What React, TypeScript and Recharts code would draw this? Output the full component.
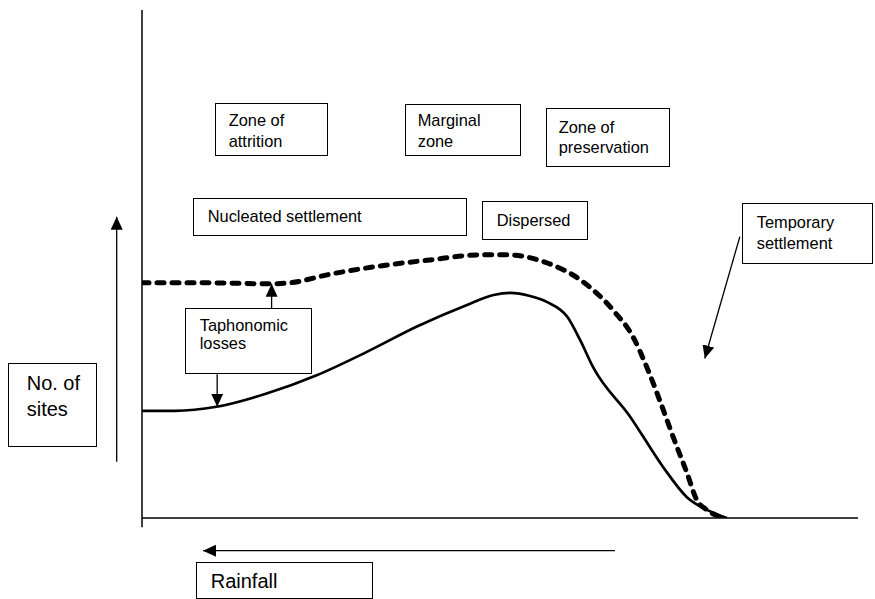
import React from "react";
import { LineChart, Line, XAxis, YAxis, ReferenceLine } from "recharts";

// relative rainfall position (0 = left edge of plot, 100 = right end of axis)
const survivingX = [0, 4.6, 10.4, 17.4, 24.4, 31.4, 38.4, 45.3, 49.1, 51.4, 54.2, 56.6, 59.4, 61.2, 63.0, 68.2, 72.8, 76.1, 78.9, 81.7];
// number of sites surviving (solid line)
const survivingSites = [21.1, 21.1, 21.9, 24.5, 28.1, 32.7, 37.7, 41.9, 43.9, 44.3, 43.7, 42.5, 39.6, 35.0, 29.7, 19.9, 10.0, 4.1, 1.6, 0];

const originalX = [0, 8.1, 18.1, 20.7, 26.3, 33.2, 40.2, 47.2, 51.0, 56.6, 61.2, 65.8, 68.6, 70.5, 72.3, 74.2, 76.1, 77.5, 78.9, 80.7];
// number of sites originally (dashed line)
const originalSites = [46.3, 46.3, 46.1, 46.3, 48.0, 49.6, 50.8, 51.8, 51.8, 50.2, 46.9, 40.9, 35.6, 29.7, 23.2, 15.9, 8.9, 3.5, 1.6, 0.2];

const surviving = survivingX.map((x, i) => ({ x, sites: survivingSites[i] }));
const original = originalX.map((x, i) => ({ x, sites: originalSites[i] }));

const FONT = '"Liberation Sans", Arial, Helvetica, sans-serif';

type BoxProps = {
  x: number; y: number; w: number; h: number;
  lines: string[]; tx: number; ty: number; lh: number; fs?: number;
};

function Box({ x, y, w, h, lines, tx, ty, lh, fs = 16.4 }: BoxProps) {
  const base = (lh - 1.117 * fs) / 2 + 0.905 * fs;
  return (
    <div
      style={{
        position: "absolute", left: x, top: y, width: w, height: h,
        border: "1.3px solid #000", boxSizing: "border-box", background: "#fff",
      }}
    >
      <div
        style={{
          position: "absolute", left: tx - x - 1.3, top: ty - y - 1.3 - base,
          fontFamily: FONT, fontSize: fs, lineHeight: `${lh}px`, color: "#000",
          whiteSpace: "nowrap",
        }}
      >
        {lines.map((l, i) => <div key={i}>{l}</div>)}
      </div>
    </div>
  );
}

export default function App() {
  return (
    <div style={{ position: "absolute", left: 0, top: 0, width: 875, height: 599, background: "#fff" }}>
      <svg width={0} height={0} style={{ position: "absolute" }}>
        <defs>
          <marker id="arrowHead" markerUnits="userSpaceOnUse" markerWidth={13} markerHeight={12}
            refX={13} refY={6} orient="auto">
            <path d="M0,0 L13,6 L0,12 z" fill="#000" />
          </marker>
        </defs>
      </svg>

      <LineChart width={875} height={599} data={surviving}
        margin={{ top: 10, right: 17, bottom: 81, left: 142 }}>
        <XAxis type="number" dataKey="x" domain={[0, 100]} hide allowDataOverflow />
        <YAxis type="number" domain={[0, 100]} hide allowDataOverflow />
        <ReferenceLine segment={[{ x: 0, y: -1.8 }, { x: 0, y: 100 }]} stroke="#000" strokeWidth={1.5} ifOverflow="visible" />
        <ReferenceLine segment={[{ x: 0, y: 0 }, { x: 100, y: 0 }]} stroke="#000" strokeWidth={1.5} ifOverflow="visible" />
        <Line data={original} dataKey="sites" type="monotone" stroke="#000" strokeWidth={5}
          strokeDasharray="7 8" strokeLinecap="round" dot={false} isAnimationActive={false} />
        <Line data={surviving} dataKey="sites" type="monotone" stroke="#000" strokeWidth={2.7}
          dot={false} isAnimationActive={false} />
        <ReferenceLine segment={[{ x: 18.1, y: 41.3 }, { x: 18.1, y: 46.1 }]} stroke="#000" strokeWidth={1.3}
          ifOverflow="visible" markerEnd="url(#arrowHead)" />
        <ReferenceLine segment={[{ x: 10.5, y: 28.3 }, { x: 10.5, y: 21.9 }]} stroke="#000" strokeWidth={1.3}
          ifOverflow="visible" markerEnd="url(#arrowHead)" />
        <ReferenceLine segment={[{ x: 83.5, y: 55.4 }, { x: 78.6, y: 31.4 }]} stroke="#000" strokeWidth={1.3}
          ifOverflow="visible" markerEnd="url(#arrowHead)" />
      </LineChart>

      <svg width={875} height={599} style={{ position: "absolute", left: 0, top: 0, pointerEvents: "none" }}>
        <line x1={116.7} y1={461.7} x2={116.7} y2={216.7} stroke="#000" strokeWidth={1.3} markerEnd="url(#arrowHead)" />
        <line x1={615} y1={550.7} x2={203} y2={550.7} stroke="#000" strokeWidth={1.3} markerEnd="url(#arrowHead)" />
      </svg>

      <Box x={215} y={103} w={113} h={53} lines={["Zone of", "attrition"]} tx={229} ty={126.7} lh={21} />
      <Box x={405} y={104} w={116} h={52} lines={["Marginal", "zone"]} tx={418} ty={126.7} lh={20.5} />
      <Box x={546} y={108} w={124} h={59} lines={["Zone of", "preservation"]} tx={559} ty={133.3} lh={20} />
      <Box x={193} y={198} w={274} h={38} lines={["Nucleated settlement"]} tx={208} ty={221.7} lh={20} />
      <Box x={482} y={201} w={106} h={39} lines={["Dispersed"]} tx={497} ty={225.7} lh={20} />
      <Box x={742} y={203} w={131} h={61} lines={["Temporary", "settlement"]} tx={757} ty={228.3} lh={21} />
      <Box x={185} y={308} w={127} h={66} lines={["Taphonomic", "losses"]} tx={200} ty={331.7} lh={17.6} />
      <Box x={8} y={363} w={89} h={84} lines={["No. of", "sites"]} tx={27} ty={391} lh={25.7} fs={20} />
      <Box x={196} y={562} w={177} h={37} lines={["Rainfall"]} tx={211} ty={588.3} lh={24} fs={20} />
    </div>
  );
}
